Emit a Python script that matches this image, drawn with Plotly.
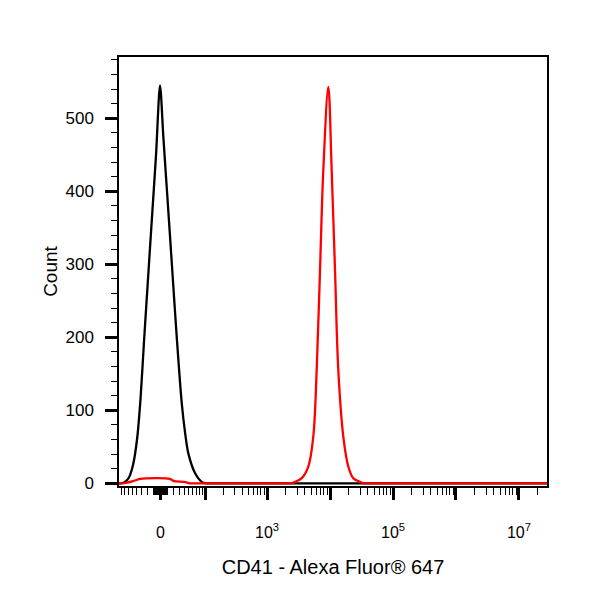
import numpy as np
import plotly.graph_objects as go

# ===========================================================
# DATA (fluorescence value, event count)
# ===========================================================
black_x = [-100, -81.6, -69.1, -58.1, -48.3, -39.5, -32.6, -26.1, -19.3, -12.9, -6.7, -0.75,
           4.2, 9.0, 14.5, 19.8, 25.6, 34.9, 41.6, 49, 66.2, 87.4, 103.7, 130, 1e3, 1e5, 3e7]
black_count = [0, 0, 2, 8, 25, 60, 115, 195, 280, 365, 450, 545,
               475, 410, 338, 270, 201, 110, 70, 41, 14, 2, 0, 0, 0, 0, 0]

red_x = [-100, -90, -78, -63, -48, -33, -8, 14, 21, 40, 53, 70, 500, 2000, 2400, 2785, 3554,
         4525, 5430, 6145, 6940, 7830, 9400, 10630, 12010, 13550, 16260, 19520, 23420,
         29950, 34000, 40000, 1e5, 1e6, 3e7]
red_count = [0, 0, 0, 1, 3, 6, 7, 6, 3, 2, 0, 0, 0, 0, 0, 2, 7,
             23, 64, 155, 292, 429, 543, 429, 292, 155, 64, 23, 7,
             2, 0, 0, 0, 0, 0]

x_major_vals = [0, 1e2, 1e3, 1e4, 1e5, 1e6, 1e7]
x_major_text = ["0", " ", "10<sup>3</sup>", " ", "10<sup>5</sup>", " ", "10<sup>7</sup>"]
y_major_vals = [0, 100, 200, 300, 400, 500]

# ===========================================================
# BIEXPONENTIAL-LIKE DISPLAY SCALE
# ===========================================================
W = 40.8


def biex(v):
    return np.arcsinh(np.asarray(v, dtype=float) / W) / np.log(10)


# minor ticks: linear steps near zero, 2..9 per decade above
x_minor_vals = []
for s in (-1, 1):
    x_minor_vals += [s * k for k in range(1, 10)]
    x_minor_vals += [s * k * 10 for k in range(1, 10)]
for e in range(2, 8):
    x_minor_vals += [k * 10 ** e for k in range(2, 10)]

fig = go.Figure()

fig.add_trace(go.Scatter(
    x=biex(black_x), y=black_count, mode="lines",
    line=dict(color="black", width=2.3, shape="spline", smoothing=0.8),
    name="Isotype", hoverinfo="skip"
))
fig.add_trace(go.Scatter(
    x=biex(red_x), y=red_count, mode="lines",
    line=dict(color="#ff0000", width=2.3, shape="spline", smoothing=1),
    name="CD41", hoverinfo="skip"
))

fig.update_layout(
    width=600, height=600,
    margin=dict(l=111, r=61, t=49, b=122),
    paper_bgcolor="white", plot_bgcolor="white",
    showlegend=False,
    font=dict(family="Liberation Sans, Arial, sans-serif", color="black"),
    xaxis=dict(
        range=[-0.659, 6.135],
        tickmode="array", tickvals=biex(x_major_vals).tolist(), ticktext=x_major_text,
        ticks="outside", ticklen=12, tickwidth=2.5, tickcolor="black",
        tickfont=dict(size=16), ticklabelstandoff=19,
        minor=dict(tickmode="array", tickvals=biex(x_minor_vals).tolist(),
                   ticks="outside", ticklen=7, tickwidth=1.2, tickcolor="black"),
        showgrid=False, zeroline=False,
        showline=True, linecolor="black", linewidth=1.5, mirror=True,
        title=dict(text="CD41 - Alexa Fluor® 647", font=dict(size=20), standoff=20),
    ),
    yaxis=dict(
        range=[-3.7, 584],
        tickmode="array", tickvals=y_major_vals,
        ticks="outside", ticklen=12, tickwidth=2.5, tickcolor="black",
        tickfont=dict(size=17), ticklabelstandoff=8,
        minor=dict(dtick=20, ticks="outside", ticklen=6, tickwidth=1.2, tickcolor="black"),
        showgrid=False, zeroline=False,
        showline=True, linecolor="black", linewidth=1.5, mirror=True,
        title=dict(text="Count", font=dict(size=19), standoff=3),
    ),
)

fig.write_html("out.html")
